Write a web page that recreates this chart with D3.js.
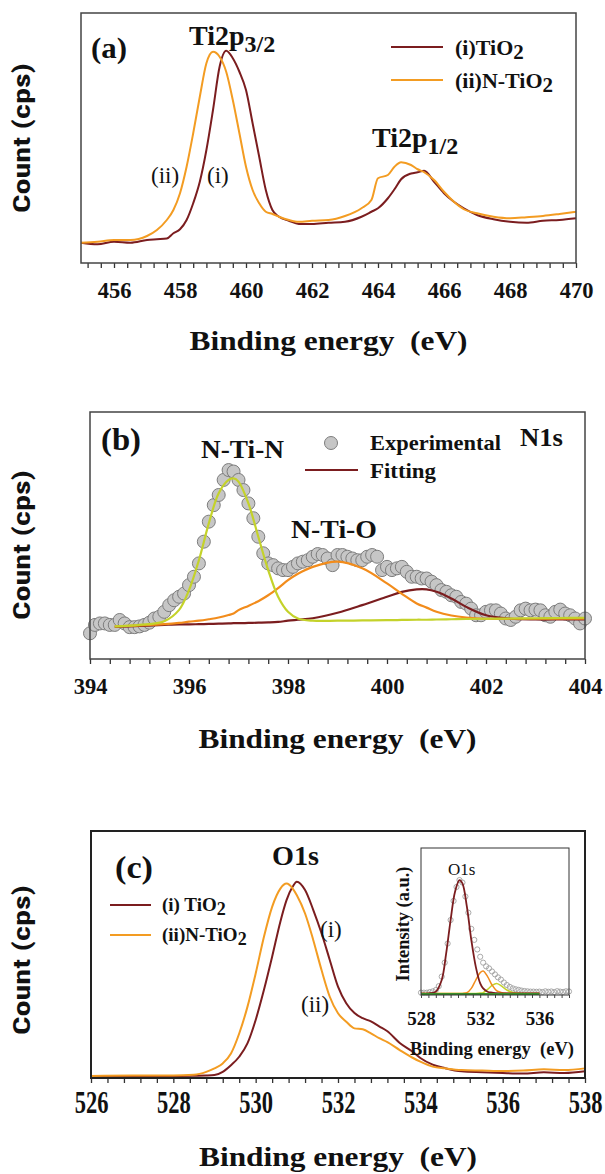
<!DOCTYPE html>
<html><head><meta charset="utf-8">
<script src="https://cdn.jsdelivr.net/npm/d3@7"></script>
<style>body{margin:0;background:#fff;} svg{display:block;}</style>
</head><body>
<svg id="chart" width="605" height="1174"></svg>
<script>
// ---------- Panel (a): Ti2p ----------
const aEnergy = [455,455.5,456,456.5,457,457.3,457.6,457.8,458,458.2,458.4,458.6,458.8,459,459.2,459.4,459.6,459.8,460,460.2,460.4,460.6,460.8,461,461.3,461.6,462,462.5,463,463.5,463.8,464,464.3,464.5,464.7,465,465.2,465.4,465.7,466,466.3,466.6,467,467.5,468,468.5,469,469.5,470];
const aTiO2 = [8.1,7.5,8.5,8.1,9.2,9.5,9.8,11.9,13.5,17.2,23.9,32.5,45.2,61.2,78.5,84.9,81.9,76.5,69.2,55.9,42.5,29.2,21.2,18.5,16.9,15.6,15.6,16.1,16.5,18.5,20.5,21.9,25.9,29.5,33.5,35.8,36.3,36.9,32.5,27.9,24.5,21.9,19.2,17.5,16.5,16.1,16.9,17.2,17.9];
const aNTiO2 = [8.1,8.5,9.2,9.2,10.8,13.2,17.2,21.2,27.9,38.5,51.9,66.5,79.9,84.5,82.5,76.5,65.2,51.9,38.5,29.2,23.9,20.5,19.6,18.5,17.2,16.5,16.9,17.2,18.8,21.9,25.2,33.9,35.2,38.5,40.3,39.2,37.5,36.3,33.2,28.5,24.5,21.5,19.9,18.5,17.9,18.3,18.8,19.6,20.5];
const aTickLabels = [456,458,460,462,464,466,468,470];

// ---------- Panel (b): N1s ----------
const bExpEnergy = [394.0,394.1,394.2,394.3,394.4,394.5,394.6,394.7,394.8,394.9,395.0,395.1,395.2,395.3,395.4,395.5,395.6,395.7,395.8,395.9,396.0,396.1,396.2,396.3,396.4,396.5,396.6,396.7,396.8,396.9,397.0,397.1,397.2,397.3,397.4,397.5,397.6,397.7,397.8,397.9,398.0,398.1,398.2,398.3,398.4,398.5,398.6,398.7,398.8,398.9,399.0,399.1,399.2,399.3,399.4,399.5,399.6,399.7,399.8,399.9,400.0,400.1,400.2,400.3,400.4,400.5,400.6,400.7,400.8,400.9,401.0,401.1,401.2,401.3,401.4,401.5,401.6,401.7,401.8,401.9,402.0,402.1,402.2,402.3,402.4,402.5,402.6,402.7,402.8,402.9,403.0,403.1,403.2,403.3,403.4,403.5,403.6,403.7,403.8,403.9,404.0];
const bExp = [10.4,13.8,14.4,14.4,13.8,13.8,15.8,14.4,12.9,12.9,13.2,13.8,14.7,16.4,17.1,19.1,21.8,23.8,25.2,26.5,29.9,33.3,38.7,47.5,55.6,62.3,66.4,72.5,76.5,75.9,72.5,68.4,63.0,57.0,49.5,42.8,38.7,38.0,36.7,36.0,36.0,37.3,38.7,39.4,40.0,41.4,42.5,42.1,40.7,38.0,42.1,42.1,41.4,40.7,40.0,40.0,41.4,42.1,41.4,36.0,37.3,36.0,36.7,37.3,35.3,33.3,33.3,32.6,32.6,31.3,29.9,27.9,27.2,25.8,25.2,23.1,22.4,20.4,17.7,17.7,19.1,19.7,19.7,18.4,16.4,15.8,17.1,19.7,20.4,19.7,20.0,19.7,17.7,17.1,19.1,20.0,18.4,17.7,16.4,14.4,16.4];
const bFitEnergy = [394.5,395,395.5,395.8,396,396.2,396.4,396.6,396.8,396.9,397,397.2,397.4,397.6,397.8,398,398.2,398.5,399,399.5,400,400.3,400.6,400.8,401,401.3,401.6,402,402.5,403,403.5,404];
const bFitNTiN = [13.2,13.8,15.3,19.9,27.9,40.0,54.9,67.1,72.5,73.1,71.8,63.0,49.5,36.0,25.2,19.1,16.4,15.5,15.5,15.6,15.7,15.8,15.9,15.9,16.0,16.1,16.2,16.3,16.4,16.5,16.6,16.7];
const bFitNTiO = [13.2,13.6,14.1,14.6,15.1,15.5,16.1,16.8,17.8,18.4,19.8,21.5,23.4,25.8,28.7,31.9,34.5,37.3,39.4,36.7,30.6,26.4,22.5,20.8,19.1,17.6,16.8,16.3,16.3,16.3,16.3,16.3];
const bFitThird = [13.0,13.4,13.8,14.0,14.0,14.1,14.2,14.3,14.4,14.5,14.5,14.6,14.7,14.8,15.0,15.5,15.9,16.5,18.7,21.8,25.2,27.2,28.2,28.2,27.2,24.5,21.1,17.7,16.3,16.0,16.0,16.0];
const bTickLabels = [394,396,398,400,402,404];

// ---------- Panel (c): O1s ----------
const cEnergy = [526,527,528,528.5,528.8,529,529.2,529.4,529.6,529.8,530,530.2,530.4,530.6,530.75,530.9,531,531.2,531.4,531.6,531.8,532,532.2,532.4,532.6,532.8,533,533.2,533.5,533.8,534,534.3,534.6,535,535.5,536,536.5,537,537.5,538];
const cTiO2 = [0.8,0.8,0.8,0.9,1.0,1.2,2.5,5.2,8.6,14.0,23.5,35.6,49.1,63.3,72.0,77.5,79.5,76.1,68.0,58.6,47.8,37.0,30.3,26.3,24.2,22.9,20.9,18.9,14.2,10.8,8.1,5.4,4.0,2.7,2.3,2.0,1.8,2.3,2.0,2.7];
const cNTiO2 = [0.8,1.0,1.0,1.3,2.5,3.9,5.9,9.9,18.0,28.8,42.3,57.1,69.3,76.7,78.7,76.7,74.0,66.6,55.8,43.7,32.9,26.2,22.8,20.1,19.7,18.1,16.1,14.5,11.3,8.3,6.6,4.6,3.9,3.2,3.0,2.8,3.0,3.5,3.2,3.9];
const cTickLabels = [526,528,530,532,534,536,538];

// ---------- Inset of (c) ----------
const iExpEnergy = [528.0,528.2,528.4,528.6,528.8,529.0,529.2,529.4,529.6,529.8,530.0,530.2,530.4,530.6,530.8,531.0,531.2,531.4,531.6,531.8,532.0,532.2,532.4,532.6,532.8,533.0,533.2,533.4,533.6,533.8,534.0,534.2,534.4,534.6,534.8,535.0,535.2,535.4,535.6,535.8,536.0,536.2,536.4,536.6,536.8,537.0,537.2,537.4,537.6,537.8,538.0];
const iExp = [1.6,1.6,1.6,2.0,2.5,3.4,6.0,12.5,22.0,35.0,51.0,64.0,73.5,78.2,76.5,67.0,56.0,45.0,37.5,31.0,26.0,22.0,19.5,18.1,16.0,14.0,12.0,10.5,8.5,6.8,5.5,4.5,3.9,3.5,3.0,2.7,2.5,2.3,2.3,2.2,2.3,2.0,2.5,2.2,2.4,2.0,2.6,2.3,2.1,2.5,2.4];
const iFitEnergy = [528,528.5,529,529.4,529.7,530,530.3,530.6,530.8,531.1,531.4,531.7,532,532.2,532.5,532.8,533.1,533.4,533.8,534.2,534.8,535.5,536];
const iFitMain = [1.1,1.1,2.3,10.2,28.3,51.0,70.3,78.2,75.9,60.1,37.4,19.3,7.9,4.5,2.2,1.6,1.3,1.1,1.1,1.1,1.1,1.1,1.1];
const iFitSecond = [1.1,1.1,1.1,1.1,1.1,1.1,1.1,1.1,1.1,1.5,4.5,10.2,15.2,16.3,12.5,6.8,3.0,1.8,1.2,1.1,1.1,1.1,1.1];
const iFitThird = [1.1,1.1,1.1,1.1,1.1,1.1,1.1,1.1,1.1,1.1,1.1,1.1,1.3,1.6,3.8,6.5,7.9,6.4,3.4,1.8,1.1,1.1,1.1];
const iBaseEnergy = [528,536];
const iBase = [0.6,0.6];
const iTickLabels = [528,532,536];

// ---------- drawing ----------
const svg = d3.select("#chart");
const SERIF = "'Liberation Serif'";
const NARROW = "'Roboto Condensed'";
const DARK = "#7b1d1f", ORANGE = "#f39c22", FITOR = "#f28c1c", YG = "#c4d22a", GREEN = "#3a8f2a";

function zip(xs, ys){ return xs.map((x,i)=>[x, ys[i]]); }

function panel(o){
  const x = d3.scaleLinear().domain(o.xd).range([o.left, o.right]);
  const y = d3.scaleLinear().domain([0,100]).range([o.bottom, o.top]);
  const g = svg.append("g");
  const tickVals = d3.range(o.tickStart, o.xd[1] + 0.001, 0.4);
  g.append("g").attr("transform", `translate(0,${o.bottom})`)
    .call(d3.axisBottom(x).tickValues(tickVals).tickSize(5).tickFormat(""))
    .call(s => { s.select(".domain").remove(); s.selectAll("line").attr("stroke", "#333").attr("stroke-width", 1.3); });
  const lab = g.append("g").attr("transform", `translate(0,${o.bottom})`)
    .call(d3.axisBottom(x).tickValues(o.labels).tickSize(0).tickFormat(d3.format("d")));
  lab.select(".domain").remove();
  lab.attr("font-family", SERIF);
  lab.selectAll("text").attr("font-family", SERIF).attr("font-weight", "bold")
    .attr("font-size", 22.5).attr("fill", "#111").attr("dy", null)
    .attr("y", o.labelStretch ? 35 / o.labelStretch : 35)
    .attr("transform", o.labelStretch ? `scale(1,${o.labelStretch})` : null);
  g.append("text").attr("x", (o.left + o.right) / 2).attr("y", o.titleY)
    .attr("text-anchor", "middle").attr("font-family", SERIF).attr("font-weight", "bold")
    .attr("font-size", 28).attr("textLength", 278).attr("lengthAdjust", "spacingAndGlyphs")
    .attr("fill", "#111").text("Binding energy \u00A0(eV)");
  g.append("text").attr("transform", `translate(30,${o.ylabY}) rotate(-90)`)
    .attr("text-anchor", "middle").attr("font-family", NARROW).attr("font-weight", "bold")
    .attr("font-size", 24).attr("textLength", 150).attr("lengthAdjust", "spacingAndGlyphs")
    .attr("fill", "#111").text("Count (cps)");
  const plot = g.append("g");
  g.append("rect").attr("x", o.left).attr("y", o.top).attr("width", o.right - o.left)
    .attr("height", o.bottom - o.top).attr("fill", "none").attr("stroke", o.frameColor)
    .attr("stroke-width", o.frameWidth);
  return {x, y, g, plot};
}

function txt(parent, x, y, size, str, opts = {}){
  const t = parent.append("text").attr("x", x).attr("y", y).attr("font-family", SERIF)
    .attr("font-weight", opts.normal ? "normal" : "bold").attr("font-size", size)
    .attr("fill", "#111").attr("text-anchor", opts.anchor || "start").text(str);
  if (opts.len) t.attr("textLength", opts.len).attr("lengthAdjust", "spacingAndGlyphs");
  return t;
}
function subText(parent, x, y, size, main, sub, subSize, dy){
  const t = parent.append("text").attr("x", x).attr("y", y).attr("font-family", SERIF)
    .attr("font-weight", "bold").attr("font-size", size).attr("fill", "#111");
  t.append("tspan").text(main);
  t.append("tspan").attr("dy", dy).attr("font-size", subSize).text(sub);
  return t;
}

// ===== Panel (a) =====
{
  const P = panel({xd:[455,470], left:81, right:576, top:13, bottom:263, tickStart:455.2,
    labels:aTickLabels, titleY:350, ylabY:138, frameColor:"#444", frameWidth:1.5});
  const line = d3.line().x(d => P.x(d[0])).y(d => P.y(d[1])).curve(d3.curveMonotoneX);
  P.plot.append("path").datum(zip(aEnergy, aTiO2)).attr("d", line).attr("fill", "none")
    .attr("stroke", DARK).attr("stroke-width", 2);
  P.plot.append("path").datum(zip(aEnergy, aNTiO2)).attr("d", line).attr("fill", "none")
    .attr("stroke", ORANGE).attr("stroke-width", 2);
  txt(P.g, 91, 58, 30, "(a)", {len:36});
  subText(P.g, 189, 45, 28, "Ti2p", "3/2", 24, 7);
  subText(P.g, 372, 147, 28, "Ti2p", "1/2", 24, 7);
  txt(P.g, 151, 183, 23, "(ii)", {normal:true});
  txt(P.g, 207, 183, 23, "(i)", {normal:true});
  P.g.append("line").attr("x1", 391).attr("x2", 443).attr("y1", 47).attr("y2", 47).attr("stroke", DARK).attr("stroke-width", 2);
  P.g.append("line").attr("x1", 391).attr("x2", 443).attr("y1", 80).attr("y2", 80).attr("stroke", ORANGE).attr("stroke-width", 2);
  subText(P.g, 455, 55, 22, "(i)TiO", "2", 21, 4);
  subText(P.g, 455, 88, 22, "(ii)N-TiO", "2", 21, 4);
}

// ===== Panel (b) =====
{
  const P = panel({xd:[394,404], left:90, right:585, top:412, bottom:659, tickStart:394,
    labels:bTickLabels, titleY:748, ylabY:545, frameColor:"#444", frameWidth:1.5});
  P.plot.selectAll("circle").data(zip(bExpEnergy, bExp)).join("circle")
    .attr("cx", d => P.x(d[0])).attr("cy", d => P.y(d[1])).attr("r", 6.5)
    .attr("fill", "#c6c6c6").attr("stroke", "#7d7d7d").attr("stroke-width", 1);
  const line = d3.line().x(d => P.x(d[0])).y(d => P.y(d[1])).curve(d3.curveCatmullRom.alpha(0.5));
  P.plot.append("path").datum(zip(bFitEnergy, bFitThird)).attr("d", line).attr("fill", "none").attr("stroke", DARK).attr("stroke-width", 2.2);
  P.plot.append("path").datum(zip(bFitEnergy, bFitNTiO)).attr("d", line).attr("fill", "none").attr("stroke", FITOR).attr("stroke-width", 2.2);
  P.plot.append("path").datum(zip(bFitEnergy, bFitNTiN)).attr("d", line).attr("fill", "none").attr("stroke", YG).attr("stroke-width", 2.2);
  txt(P.g, 101, 450, 31, "(b)", {len:40});
  txt(P.g, 201, 458, 26, "N-Ti-N", {len:83});
  txt(P.g, 291, 538, 26, "N-Ti-O", {len:86});
  txt(P.g, 520, 446, 26, "N1s", {len:43});
  P.g.append("circle").attr("cx", 331).attr("cy", 443).attr("r", 6.5).attr("fill", "#c6c6c6").attr("stroke", "#7d7d7d");
  txt(P.g, 370, 450, 22, "Experimental", {len:131});
  P.g.append("line").attr("x1", 305).attr("x2", 358).attr("y1", 470).attr("y2", 470).attr("stroke", DARK).attr("stroke-width", 2.2);
  txt(P.g, 370, 478, 22, "Fitting", {len:66});
}

// ===== Panel (c) =====
{
  const P = panel({xd:[526,538], left:91, right:585, top:831, bottom:1078, tickStart:526,
    labels:cTickLabels, titleY:1166, ylabY:960, frameColor:"#222", frameWidth:2, labelStretch:1.4});
  const line = d3.line().x(d => P.x(d[0])).y(d => P.y(d[1])).curve(d3.curveMonotoneX);
  P.plot.append("path").datum(zip(cEnergy, cTiO2)).attr("d", line).attr("fill", "none").attr("stroke", DARK).attr("stroke-width", 2);
  P.plot.append("path").datum(zip(cEnergy, cNTiO2)).attr("d", line).attr("fill", "none").attr("stroke", ORANGE).attr("stroke-width", 2);
  txt(P.g, 115, 878, 32, "(c)", {len:38});
  txt(P.g, 272, 865, 28, "O1s", {len:47});
  txt(P.g, 320, 937, 23, "(i)", {normal:true});
  txt(P.g, 301, 1012, 23, "(ii)", {normal:true});
  P.g.append("line").attr("x1", 110).attr("x2", 151).attr("y1", 905).attr("y2", 905).attr("stroke", DARK).attr("stroke-width", 2);
  P.g.append("line").attr("x1", 110).attr("x2", 151).attr("y1", 935).attr("y2", 935).attr("stroke", ORANGE).attr("stroke-width", 2);
  subText(P.g, 162, 911, 19, "(i) TiO", "2", 18, 4);
  subText(P.g, 162, 941, 19, "(ii)N-TiO", "2", 18, 4);

  // inset
  const ix = d3.scaleLinear().domain([528,538]).range([421,569]);
  const iy = d3.scaleLinear().domain([0,100]).range([995,848]);
  const ig = svg.append("g");
  ig.append("g").attr("transform", "translate(0,995)")
    .call(d3.axisBottom(ix).tickValues(d3.range(528, 538.001, 0.5)).tickSize(3).tickFormat(""))
    .call(s => { s.select(".domain").remove(); s.selectAll("line").attr("stroke", "#444"); });
  const il = ig.append("g").attr("transform", "translate(0,995)")
    .call(d3.axisBottom(ix).tickValues(iTickLabels).tickSize(0).tickFormat(d3.format("d")));
  il.select(".domain").remove();
  il.selectAll("text").attr("font-family", SERIF).attr("font-weight", "bold").attr("font-size", 19)
    .attr("fill", "#111").attr("dy", null).attr("y", 30);
  ig.selectAll("circle.exp").data(zip(iExpEnergy, iExp)).join("circle").attr("class", "exp")
    .attr("cx", d => ix(d[0])).attr("cy", d => iy(d[1])).attr("r", 2.6)
    .attr("fill", "none").attr("stroke", "#a0a0a0").attr("stroke-width", 0.9);
  const il2 = d3.line().x(d => ix(d[0])).y(d => iy(d[1])).curve(d3.curveCatmullRom.alpha(0.5));
  ig.append("path").datum(zip(iFitEnergy, iFitThird)).attr("d", il2).attr("fill", "none").attr("stroke", YG).attr("stroke-width", 1.5);
  ig.append("path").datum(zip(iFitEnergy, iFitSecond)).attr("d", il2).attr("fill", "none").attr("stroke", FITOR).attr("stroke-width", 1.5);
  ig.append("path").datum(zip(iFitEnergy, iFitMain)).attr("d", il2).attr("fill", "none").attr("stroke", DARK).attr("stroke-width", 1.8);
  ig.append("path").datum(zip(iBaseEnergy, iBase)).attr("d", il2).attr("fill", "none").attr("stroke", GREEN).attr("stroke-width", 2);
  ig.append("rect").attr("x", 421).attr("y", 848).attr("width", 148).attr("height", 147)
    .attr("fill", "none").attr("stroke", "#333").attr("stroke-width", 1);
  txt(ig, 448, 875, 17, "O1s", {normal:true});
  ig.append("text").attr("transform", "translate(409,924) rotate(-90)").attr("text-anchor", "middle")
    .attr("font-family", SERIF).attr("font-weight", "bold").attr("font-size", 18)
    .attr("textLength", 115).attr("lengthAdjust", "spacingAndGlyphs").attr("fill", "#111").text("Intensity (a.u.)");
  ig.append("text").attr("x", 492).attr("y", 1055).attr("text-anchor", "middle")
    .attr("font-family", SERIF).attr("font-weight", "bold").attr("font-size", 18.5)
    .attr("textLength", 164).attr("lengthAdjust", "spacingAndGlyphs").attr("fill", "#111").text("Binding energy \u00A0(eV)");
}
</script>
</body></html>
